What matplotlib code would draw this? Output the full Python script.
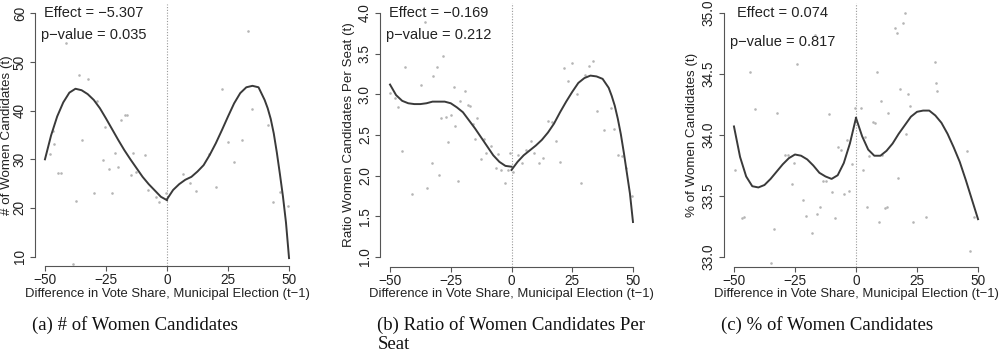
import matplotlib
matplotlib.use('Agg')
import matplotlib.pyplot as plt

plt.rcParams['font.family'] = ['Liberation Sans', 'DejaVu Sans']

# Fitted curve grids (left and right of the cutoff)
CURVE_L_X = [-50, -47.5, -45, -42.5, -40, -37.5, -35, -32.5, -30, -27.5, -25,
             -22.5, -20, -17.5, -15, -12.5, -10, -7.5, -5, -2.5, 0]
CURVE_R_X = [0, 2.5, 5, 7.5, 10, 12.5, 15, 17.5, 20, 22.5, 25,
             27.5, 30, 32.5, 35, 37.5, 40, 42.5, 45, 47.5, 50]
# finer grid where the right-hand fits drop steeply
CURVE_R_X_FINE = [0, 2.5, 5, 7.5, 10, 12.5, 15, 17.5, 20, 22.5, 25,
                  27.5, 30, 32.5, 35, 37.5, 40, 41.25, 42.5, 43.75, 45,
                  46.25, 47.5, 48.75, 50]

# (a) # of Women Candidates
a_x = [-35.9, -32.2, -28.7, -19.0, -17.1, -16.2, -46.9, -25.3, -34.8, -46.3, -48.0,
       -21.3, -14.1, -9.2, -26.4, -23.6, -20.1, -44.8, -43.3, -14.8, -12.7, -7.9,
       -29.9, -22.7, -4.5, -3.1, -37.3, -38.7, -41.4, -0.5,
       33.2, 22.5, 35.0, 41.3, 30.6, 25.1, 17.2, 27.6, 6.7, 9.3, 11.9, 19.9, 46.3, 43.6, 49.6]
a_y = [47.4, 46.6, 41.9, 38.1, 39.1, 39.1, 35.8, 36.6, 34.0, 33.1, 31.0,
       31.2, 31.4, 30.8, 29.9, 28.0, 28.5, 27.1, 27.1, 26.8, 27.4, 23.7,
       23.0, 23.0, 22.2, 21.3, 21.5, 8.5, 54.0, 23.1,
       56.4, 44.5, 40.3, 37.0, 34.0, 33.6, 31.0, 29.4, 27.0, 25.1, 23.4, 24.3, 23.2, 21.2, 20.4]
a_fit_l = [30.0, 34.9, 38.8, 41.7, 43.7, 44.5, 44.2, 43.4, 42.2, 40.5, 38.4,
           36.2, 34.0, 31.9, 30.0, 28.2, 26.4, 24.9, 23.6, 22.3, 21.6]
a_fit_r = [21.8, 23.7, 24.9, 25.8, 26.4, 27.5, 28.8, 30.9, 33.3, 36.0, 38.8,
           41.5, 43.6, 44.8, 45.1, 44.8, 42.2, 40.5, 38.3, 35.3, 31.4,
           27.0, 22.4, 17.0, 9.7]

# (b) Ratio of Women Candidates Per Seat
b_x = [-35.6, -28.1, -44.0, -30.8, -32.2, -37.3, -23.8, -19.0, -50.0, -47.8,
       -21.1, -18.1, -17.1, -46.7, -28.9, -26.8, -25.1, -23.2, -14.1, -16.0,
       -15.2, -11.4, -26.0, -8.6, -10.4, -5.5, -12.5, -44.9, -32.9, -29.9,
       -6.3, -4.2, -1.5, -2.7, -22.1, -34.8, -41.1, -0.5,
       33.5, 32.0, 25.1, 21.6, 30.3, 23.4, 26.8, 41.0, 35.0, 14.9,
       16.7, 37.9, 42.1, 7.9, 18.2, 6.0, 9.4, 2.7, 43.9, 45.5,
       12.8, 4.2, 11.3, 19.9, 47.2, 0.5, 28.4, 49.8]
b_y = [3.89, 3.47, 3.34, 3.34, 3.22, 3.12, 3.09, 3.04, 3.02, 2.95,
       2.92, 2.87, 2.86, 2.85, 2.71, 2.72, 2.75, 2.61, 2.71, 2.63,
       2.45, 2.45, 2.41, 2.36, 2.28, 2.27, 2.20, 2.30, 2.16, 2.01,
       2.09, 2.07, 2.07, 1.91, 1.93, 1.85, 1.78, 2.28,
       3.41, 3.35, 3.38, 3.32, 3.24, 3.16, 3.01, 2.83, 2.80, 2.67,
       2.66, 2.56, 2.57, 2.43, 2.43, 2.32, 2.28, 2.25, 2.26, 2.24,
       2.22, 2.16, 2.16, 2.17, 2.10, 2.05, 1.91, 1.75]
b_fit_l = [3.12, 2.99, 2.92, 2.89, 2.88, 2.88, 2.89, 2.91, 2.91, 2.91, 2.89,
           2.84, 2.78, 2.68, 2.58, 2.47, 2.36, 2.25, 2.17, 2.12, 2.11]
b_fit_r = [2.07, 2.17, 2.25, 2.31, 2.37, 2.44, 2.53, 2.64, 2.78, 2.91, 3.03,
           3.14, 3.20, 3.23, 3.22, 3.19, 3.08, 2.98, 2.86, 2.70, 2.51,
           2.28, 2.03, 1.78, 1.43]

# (c) % of Women Candidates
c_x = [-16.8, -24.2, -43.3, -41.2, -32.3, -11.1, -0.3, -3.8, -7.4, -6.3,
       -28.9, -27.9, -25.5, -1.6, -49.7, -26.4, -13.4, -12.3, -10.0, -5.1,
       -2.7, -21.9, -14.8, -15.9, -20.5, -8.8, -46.6, -46.0, -33.6, -18.2, -34.9,
       19.9, 19.2, 15.8, 16.7, 32.2, 8.5, 32.9, 33.3, 18.2, 21.4,
       10.1, 22.3, 2.1, 13.3, 7.0, 7.8, 20.4, 3.7, 45.5, 5.3,
       10.5, 2.9, 17.4, 4.7, 11.9, 12.6, 28.8, 48.5, 9.5, 23.2, 46.7]
c_y = [34.82, 34.58, 34.52, 34.21, 34.18, 34.17, 34.22, 33.96, 33.90, 33.88,
       33.84, 33.84, 33.77, 33.76, 33.71, 33.60, 33.62, 33.62, 33.53, 33.52,
       33.54, 33.47, 33.41, 33.35, 33.34, 33.32, 33.32, 33.33, 33.23, 33.20, 32.95,
       35.00, 34.92, 34.88, 34.84, 34.60, 34.52, 34.43, 34.36, 34.38, 34.34,
       34.28, 34.24, 34.22, 34.18, 34.11, 34.10, 34.01, 33.98, 33.87, 33.83,
       33.84, 33.71, 33.65, 33.41, 33.40, 33.41, 33.33, 33.33, 33.29, 33.29, 33.05]
c_fit_l = [34.07, 33.82, 33.66, 33.58, 33.57, 33.59, 33.64, 33.70, 33.76, 33.81, 33.84,
           33.83, 33.80, 33.75, 33.69, 33.66, 33.64, 33.67, 33.77, 33.93, 34.14]
c_fit_r = [34.14, 33.99, 33.88, 33.83, 33.83, 33.87, 33.93, 34.01, 34.08, 34.15, 34.19,
           34.20, 34.20, 34.16, 34.10, 34.01, 33.90, 33.78, 33.63, 33.47, 33.31]

panels = [
    dict(x=a_x, y=a_y, fl=a_fit_l, frx=CURVE_R_X_FINE, fr=a_fit_r, ylim=(8, 62),
         yticks=[10, 20, 30, 40, 50, 60], yfmt='{:.0f}', ylabel='# of Women Candidates (t)',
         ylab_x=-0.086,
         effect='Effect = \u22125.307', pval='p\u2212value = 0.035', ty=(60, 55.5),
         caption='(a) # of Women Candidates', pos=[0.0352, 0.2559, 0.2636, 0.7341]),
    dict(x=b_x, y=b_y, fl=b_fit_l, frx=CURVE_R_X_FINE, fr=b_fit_r, ylim=(0.88, 4.12),
         yticks=[1.0, 1.5, 2.0, 2.5, 3.0, 3.5, 4.0], yfmt='{:.1f}',
         ylabel='Ratio Women Candidates Per Seat (t)', ylab_x=-0.096,
         effect='Effect = \u22120.169', pval='p\u2212value = 0.212', ty=(4.0, 3.73),
         caption='(b) Ratio of Women Candidates Per\nSeat', pos=[0.3803, 0.2549, 0.2624, 0.7361]),
    dict(x=c_x, y=c_y, fl=c_fit_l, frx=CURVE_R_X, fr=c_fit_r, ylim=(32.92, 35.08),
         yticks=[33.0, 33.5, 34.0, 34.5, 35.0], yfmt='{:.1f}',
         ylabel='% of Women Candidates (t)', ylab_x=-0.099,
         effect='Effect = 0.074', pval='p\u2212value = 0.817', ty=(35.0, 34.76),
         caption='(c) % of Women Candidates', pos=[0.7242, 0.2549, 0.2636, 0.7361]),
]

fig = plt.figure(figsize=(10, 3.58), dpi=100)
axis_col = '#555555'
text_col = '#222222'

for p in panels:
    ax = fig.add_axes(p['pos'])
    ax.set_xlim(-54, 54)
    ax.set_ylim(*p['ylim'])

    ax.axvline(0, color='#999999', linestyle=(0, (1, 1.5)), linewidth=0.8, zorder=1)
    ax.scatter(p['x'], p['y'], s=3.5, color='#b5b5b5', linewidths=0, zorder=2)
    ax.plot(CURVE_L_X, p['fl'], color='#3a3a3a', linewidth=1.4, zorder=3)
    ax.plot(p['frx'], p['fr'], color='#3a3a3a', linewidth=1.4, zorder=3)

    ax.text(-30, p['ty'][0], p['effect'], ha='center', va='center', fontsize=10.5, color=text_col)
    ax.text(-30, p['ty'][1], p['pval'], ha='center', va='center', fontsize=10.5, color=text_col)

    for s in ['top', 'right']:
        ax.spines[s].set_visible(False)
    ax.spines['left'].set_bounds(p['yticks'][0], p['yticks'][-1])
    ax.spines['bottom'].set_bounds(-50, 50)
    for s in ['left', 'bottom']:
        ax.spines[s].set_color(axis_col)
        ax.spines[s].set_linewidth(0.8)

    ax.set_xticks([-50, -25, 0, 25, 50])
    ax.set_xticklabels(['\u221250', '\u221225', '0', '25', '50'])
    ax.set_yticks(p['yticks'])
    ax.set_yticklabels([p['yfmt'].format(v) for v in p['yticks']], rotation=90, va='center')
    ax.tick_params(axis='x', pad=1.5)
    ax.tick_params(axis='y', pad=2.5)
    ax.tick_params(length=3.5, width=0.8, color=axis_col, labelsize=9.8, labelcolor=text_col)

    ax.set_xlabel('Difference in Vote Share, Municipal Election (t\u22121)', fontsize=9.4,
                  color=text_col, labelpad=0.5)
    ax.set_ylabel(p['ylabel'], fontsize=9.6, color=text_col)
    ax.yaxis.set_label_coords(p['ylab_x'], 0.5)

    fig.text(p['pos'][0] - 0.003, 1 - 316 / 358, p['caption'], ha='left', va='top',
             fontsize=13.5, family='Liberation Serif', color='#111111', linespacing=1.15)

fig.savefig('out.png', dpi=100)
